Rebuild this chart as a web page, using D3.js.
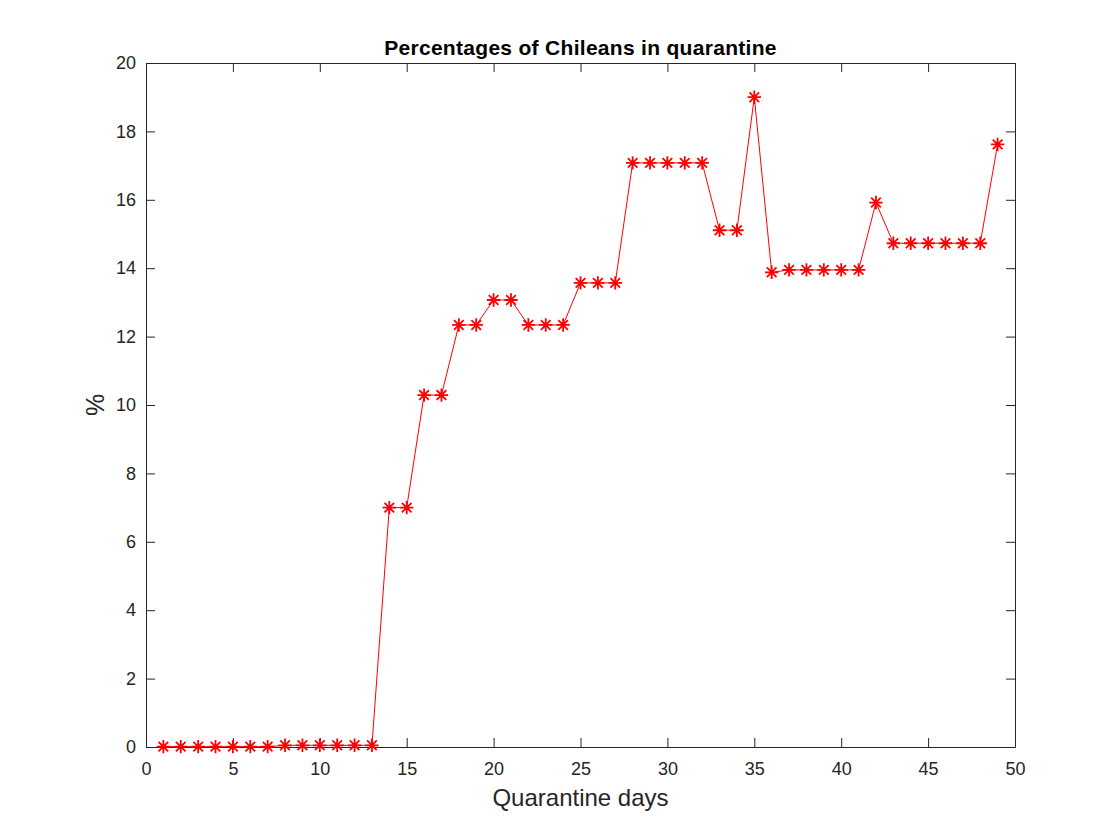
<!DOCTYPE html>
<html>
<head>
<meta charset="utf-8">
<script src="https://cdn.jsdelivr.net/npm/d3@7"></script>
<style>
  body { margin: 0; background: #fff; }
  text { font-family: "Liberation Sans", Arial, sans-serif; fill: #262626; }
</style>
</head>
<body>
<div id="chart"></div>
<script>
// quarantine days 1..49 and the share of Chileans in quarantine (%)
var days = d3.range(1, 50);
var pct = [
  0.01, 0.01, 0.01, 0.01, 0.01, 0.01, 0.01,
  0.05, 0.05, 0.05, 0.05, 0.05, 0.05,
  7.0, 7.0, 10.29, 10.29, 12.34, 12.34, 13.07, 13.07,
  12.34, 12.34, 12.34, 13.57, 13.57, 13.57,
  17.08, 17.08, 17.08, 17.08, 17.08,
  15.11, 15.11, 19.0, 13.88,
  13.95, 13.95, 13.95, 13.95, 13.95,
  15.92, 14.73, 14.73, 14.73, 14.73, 14.73, 14.73, 17.62
];
var xTicks = d3.range(0, 51, 5);
var yTicks = d3.range(0, 21, 2);

var svgWidth = 1120, svgHeight = 840;
var margin = {top: 63, right: 105, bottom: 93, left: 146},
    width = svgWidth - margin.left - margin.right,
    height = svgHeight - margin.top - margin.bottom;

var x = d3.scaleLinear().domain([0, 50]).range([0, width]);
var y = d3.scaleLinear().domain([0, 20]).range([height, 0]);

var svg = d3.select("#chart").append("svg")
    .attr("width", svgWidth)
    .attr("height", svgHeight);

var plotArea = svg.append("g")
    .attr("transform", "translate(" + margin.left + "," + margin.top + ")");

var tickLen = 9;

// axes with inward ticks (bottom/left labelled, top/right bare)
function styleAxis(g) {
  g.select(".domain").attr("stroke", "#262626");
  g.selectAll(".tick line").attr("stroke", "#262626");
  g.selectAll(".tick text").style("font-size", "18px").attr("fill", "#262626");
}

plotArea.append("g")
    .attr("transform", "translate(0," + height + ")")
    .call(d3.axisBottom(x).tickValues(xTicks).tickSizeInner(-tickLen).tickSizeOuter(0).tickPadding(15))
    .call(styleAxis);

plotArea.append("g")
    .call(d3.axisTop(x).tickValues(xTicks).tickSizeInner(-tickLen).tickSizeOuter(0).tickFormat(""))
    .call(styleAxis);

plotArea.append("g")
    .call(d3.axisLeft(y).tickValues(yTicks).tickSizeInner(-tickLen).tickSizeOuter(0).tickPadding(10))
    .call(styleAxis);

plotArea.append("g")
    .attr("transform", "translate(" + width + ",0)")
    .call(d3.axisRight(y).tickValues(yTicks).tickSizeInner(-tickLen).tickSizeOuter(0).tickFormat(""))
    .call(styleAxis);

// data line
var line = d3.line()
    .x(function(d, i) { return x(days[i]); })
    .y(function(d) { return y(d); });

plotArea.append("path")
    .datum(pct)
    .attr("fill", "none")
    .attr("stroke", "#ff0000")
    .attr("stroke-width", 1)
    .attr("d", line);

// asterisk markers
var r = 6.7, rd = r * 0.72;
var star = "M" + (-r) + ",0L" + r + ",0" +
           "M0," + (-r) + "L0," + r +
           "M" + (-rd) + "," + (-rd) + "L" + rd + "," + rd +
           "M" + (-rd) + "," + rd + "L" + rd + "," + (-rd);

plotArea.selectAll(".marker")
    .data(pct)
    .enter().append("path")
    .attr("class", "marker")
    .attr("transform", function(d, i) { return "translate(" + x(days[i]) + "," + y(d) + ")"; })
    .attr("d", star)
    .attr("stroke", "#ff0000")
    .attr("stroke-width", 1.8)
    .attr("fill", "none");

// title and labels
svg.append("text")
    .attr("x", margin.left + width / 2)
    .attr("y", 55)
    .attr("text-anchor", "middle")
    .style("font-size", "21px")
    .style("font-weight", "bold")
    .style("letter-spacing", "0.3px")
    .style("fill", "#000")
    .text("Percentages of Chileans in quarantine");

svg.append("text")
    .attr("x", margin.left + width / 2)
    .attr("y", 806)
    .attr("text-anchor", "middle")
    .style("font-size", "24px")
    .text("Quarantine days");

svg.append("text")
    .attr("transform", "translate(104," + (margin.top + height / 2) + ") rotate(-90)")
    .attr("text-anchor", "middle")
    .style("font-size", "25px")
    .text("%");
</script>
</body>
</html>
